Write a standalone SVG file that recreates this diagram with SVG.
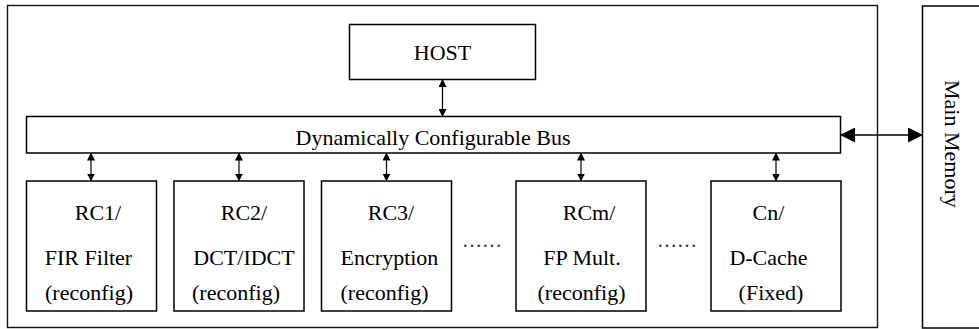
<svg xmlns="http://www.w3.org/2000/svg" width="979" height="329" viewBox="0 0 979 329">
<defs>
<style>
.box{fill:#fff;stroke:#000;stroke-width:1.5}
.frame{fill:none;stroke:#111;stroke-width:1.4}
.t{font-family:"Liberation Serif","Times New Roman",serif;font-size:22px;fill:#000;text-anchor:middle}
.cs{stroke:#000;stroke-width:1.2;fill:none;marker-start:url(#as);marker-end:url(#ae)}
.cl{stroke:#000;stroke-width:1.4;fill:none;marker-start:url(#bs);marker-end:url(#be)}
</style>
<marker id="ae" markerWidth="8" markerHeight="8" refX="7" refY="4" orient="auto" markerUnits="userSpaceOnUse"><path d="M0,0 L8,4 L0,8 Z" fill="#000"/></marker>
<marker id="as" markerWidth="8" markerHeight="8" refX="1" refY="4" orient="auto" markerUnits="userSpaceOnUse"><path d="M8,0 L0,4 L8,8 Z" fill="#000"/></marker>
<marker id="be" markerWidth="15" markerHeight="15" refX="14" refY="7.5" orient="auto" markerUnits="userSpaceOnUse"><path d="M0,0 L15,7.5 L0,15 Z" fill="#000"/></marker>
<marker id="bs" markerWidth="15" markerHeight="15" refX="1" refY="7.5" orient="auto" markerUnits="userSpaceOnUse"><path d="M15,0 L0,7.5 L15,15 Z" fill="#000"/></marker>
</defs>
<rect width="979" height="329" fill="#fff"/>
<rect id="system" class="frame" x="7.5" y="5.5" width="870" height="322"/>
<g id="main-memory">
<rect class="box" x="922.5" y="6" width="70" height="322"/>
<text class="t" x="952" y="80" transform="rotate(90 952 80)" dy="7" style="text-anchor:start">Main Memory</text>
</g>
<g id="host">
<rect class="box" x="349.5" y="24.5" width="186" height="55"/>
<text class="t" x="442.5" y="60">HOST</text>
</g>
<g id="bus">
<rect class="box" x="26.5" y="116.5" width="814" height="36.5"/>
<text class="t" x="433" y="145">Dynamically Configurable Bus</text>
</g>
<g id="rc1">
<rect class="box" x="26.5" y="181" width="130" height="130"/>
<text class="t" x="98" y="220">RC1/</text>
<text class="t" x="88.5" y="265">FIR Filter</text>
<text class="t" x="89" y="300">(reconfig)</text>
</g>
<g id="rc2">
<rect class="box" x="174" y="181" width="130" height="130"/>
<text class="t" x="244" y="220">RC2/</text>
<text class="t" x="244" y="265">DCT/IDCT</text>
<text class="t" x="236" y="300">(reconfig)</text>
</g>
<g id="rc3">
<rect class="box" x="321.5" y="181" width="130" height="130"/>
<text class="t" x="391" y="220">RC3/</text>
<text class="t" x="389.5" y="265">Encryption</text>
<text class="t" x="384.5" y="300">(reconfig)</text>
</g>
<g id="rcm">
<rect class="box" x="516" y="181" width="130" height="130"/>
<text class="t" x="589" y="220">RCm/</text>
<text class="t" x="582" y="265">FP Mult.</text>
<text class="t" x="581.5" y="300">(reconfig)</text>
</g>
<g id="cn">
<rect class="box" x="711" y="181" width="130" height="130"/>
<text class="t" x="768.5" y="220">Cn/</text>
<text class="t" x="768.5" y="265">D-Cache</text>
<text class="t" x="771" y="300">(Fixed)</text>
</g>
<g id="ellipses">
<text class="t" x="482" y="247" style="font-size:20px;fill:#333">……</text>
<text class="t" x="677" y="247" style="font-size:20px;fill:#333">……</text>
</g>
<g id="connectors">
<line class="cs" x1="442.5" y1="80" x2="442.5" y2="116"/>
<line class="cs" x1="91" y1="153.5" x2="91" y2="180.5"/>
<line class="cs" x1="239" y1="153.5" x2="239" y2="180.5"/>
<line class="cs" x1="386.5" y1="153.5" x2="386.5" y2="180.5"/>
<line class="cs" x1="581" y1="153.5" x2="581" y2="180.5"/>
<line class="cs" x1="776" y1="153.5" x2="776" y2="180.5"/>
<line class="cl" x1="841" y1="135" x2="922" y2="135"/>
</g>
</svg>
